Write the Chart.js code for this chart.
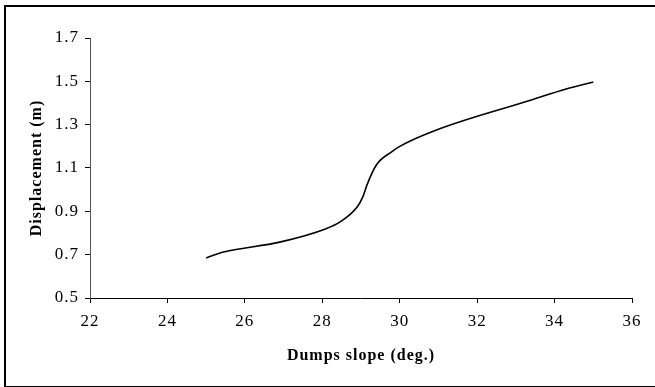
<!DOCTYPE html>
<html>
<head>
<meta charset="utf-8">
<script src="https://cdn.jsdelivr.net/npm/chart.js@4/dist/chart.umd.min.js"></script>
<style>
  html, body { margin: 0; padding: 0; background: #fff; overflow: hidden; }
  #wrap { position: relative; width: 655px; height: 387px; overflow: hidden; }
  #frame { position: absolute; left: 4px; top: 5px; width: 700px; height: 379px;
           border-left: 2px solid #000; border-top: 2px solid #000; border-bottom: 2px solid #000; }
  canvas { position: absolute; left: 0; top: 0; }
</style>
</head>
<body>
<div id="wrap">
  <div id="frame"></div>
  <canvas id="c" width="655" height="387"></canvas>
</div>
<script>
const slopeDeg = [25.0, 25.45, 26.9, 28.1, 28.45, 28.9, 29.05, 29.15, 29.4, 29.8, 30.0, 31.0, 33.4, 34.3, 35.0];
const displacementM = [0.685, 0.712, 0.758, 0.82, 0.85, 0.92, 0.968, 1.02, 1.115, 1.176, 1.2, 1.279, 1.414, 1.465, 1.497];
const xTicks = [22, 24, 26, 28, 30, 32, 34, 36];
const yTicks = [0.5, 0.7, 0.9, 1.1, 1.3, 1.5, 1.7];
const xTitle = 'Dumps slope (deg.)';
const yTitle = 'Displacement (m)';

const points = slopeDeg.map((x, i) => ({ x: x, y: displacementM[i] }));
const serif = '"Liberation Serif", "Times New Roman", serif';

const spacing = {
  id: 'spacing',
  beforeDraw(chart) { chart.ctx.letterSpacing = '1px'; }
};

new Chart(document.getElementById('c'), {
  type: 'line',
  data: {
    datasets: [{
      data: points,
      borderColor: '#000',
      borderWidth: 1.6,
      pointRadius: 0,
      fill: false,
      cubicInterpolationMode: 'monotone'
    }]
  },
  plugins: [spacing],
  options: {
    responsive: false,
    animation: false,
    layout: { padding: { left: 10, top: 38, right: 23, bottom: 9 } },
    plugins: { legend: { display: false }, tooltip: { enabled: false } },
    scales: {
      x: {
        type: 'linear',
        min: 22, max: 36,
        afterBuildTicks: (s) => { s.ticks = xTicks.map(v => ({ value: v })); },
        afterFit: (s) => { s.height = 80; },
        grid: { display: true, drawOnChartArea: false, drawTicks: true, tickLength: 5, color: '#000' },
        border: { display: true, color: '#000', width: 1 },
        ticks: { color: '#000', padding: 8, font: { family: serif, size: 17 }, maxRotation: 0,
                 callback: (v) => String(v) },
        title: { display: true, text: xTitle, color: '#000',
                 font: { family: serif, size: 16, weight: 'bold' }, padding: { top: 0, bottom: 13 } }
      },
      y: {
        type: 'linear',
        min: 0.5, max: 1.7,
        afterBuildTicks: (s) => { s.ticks = yTicks.map(v => ({ value: v })); },
        afterFit: (s) => { s.width = 80; },
        grid: { display: true, drawOnChartArea: false, drawTicks: true, tickLength: 5, color: '#000' },
        border: { display: true, color: '#555', width: 1 },
        ticks: { color: '#000', padding: 6, font: { family: serif, size: 17 },
                 callback: (v) => v.toFixed(1) },
        title: { display: true, text: yTitle, color: '#000',
                 font: { family: serif, size: 16, weight: 'bold' }, padding: { top: 17, bottom: 0 } }
      }
    }
  }
});
</script>
</body>
</html>
